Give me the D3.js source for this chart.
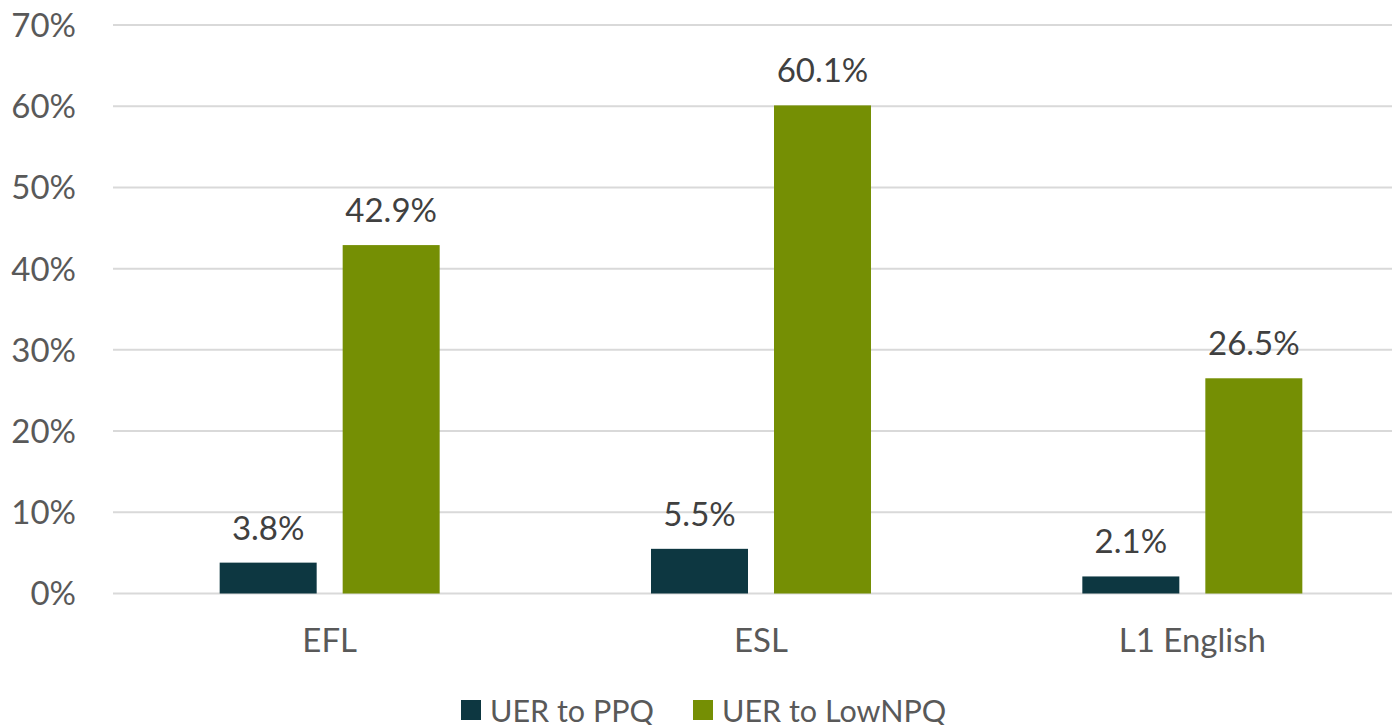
<!DOCTYPE html>
<html>
<head>
<meta charset="utf-8">
<script src="https://cdn.jsdelivr.net/npm/d3@7"></script>
<style>
  body { margin:0; background:#fff; }
  text { font-family: Lato, "Open Sans", sans-serif; }
</style>
</head>
<body>
<script>
const categories = ['EFL', 'ESL', 'L1 English']
const series = ['UER to PPQ', 'UER to LowNPQ']
const ppq = [3.8, 5.5, 2.1]
const lowNpq = [42.9, 60.1, 26.5]
const yTicks = [0, 10, 20, 30, 40, 50, 60, 70]
const colors = ['#0d3741', '#758f04']

const W = 1392, H = 725
const svg = d3.select('body').append('svg').attr('width', W).attr('height', H)

const x0 = d3.scaleBand().domain(categories).range([114, 1408]).padding(0)
const pair = 220
const x1 = d3.scaleBand().domain(series)
  .range([x0.bandwidth() / 2 - pair / 2, x0.bandwidth() / 2 + pair / 2])
  .paddingInner(26 / 123)
const y = d3.scaleLinear().domain([0, 70]).range([593.5, 25])

// gridlines
svg.append('g').selectAll('line')
  .data(yTicks)
  .enter().append('line')
    .attr('x1', 113).attr('x2', W)
    .attr('y1', d => y(d)).attr('y2', d => y(d))
    .attr('stroke', '#d9d9d9').attr('stroke-width', 2)

// y axis labels
svg.append('g').selectAll('text')
  .data(yTicks)
  .enter().append('text')
    .attr('x', 76).attr('y', d => y(d))
    .attr('dy', '0.36em')
    .attr('text-anchor', 'end')
    .attr('font-size', 33)
    .attr('fill', '#595959')
    .text(d => d + '%')

const rows = categories.map((c, i) => ({ cat: c, vals: [ppq[i], lowNpq[i]] }))

const groups = svg.append('g').selectAll('g')
  .data(rows)
  .enter().append('g')
    .attr('transform', d => `translate(${x0(d.cat)},0)`)

groups.selectAll('rect')
  .data(d => d.vals.map((v, i) => ({ s: series[i], v, i })))
  .enter().append('rect')
    .attr('x', d => x1(d.s))
    .attr('width', x1.bandwidth())
    .attr('y', d => y(d.v))
    .attr('height', d => y(0) - y(d.v))
    .attr('fill', d => colors[d.i])

groups.selectAll('text.val')
  .data(d => d.vals.map((v, i) => ({ s: series[i], v, i })))
  .enter().append('text')
    .classed('val', true)
    .attr('x', d => x1(d.s) + x1.bandwidth() / 2)
    .attr('y', d => y(d.v) - 23)
    .attr('text-anchor', 'middle')
    .attr('font-size', 33)
    .attr('fill', '#404040')
    .text(d => d.v.toFixed(1) + '%')

// category labels
svg.append('g').selectAll('text')
  .data(categories)
  .enter().append('text')
    .attr('x', d => x0(d) + x0.bandwidth() / 2)
    .attr('y', 652)
    .attr('text-anchor', 'middle')
    .attr('font-size', 33)
    .attr('fill', '#595959')
    .text(d => d)

// legend
const legendX = [461, 693]
const legend = svg.append('g').selectAll('g')
  .data(series)
  .enter().append('g')
    .attr('transform', (d, i) => `translate(${legendX[i]},700)`)
legend.append('rect')
  .attr('width', 20).attr('height', 20)
  .attr('fill', (d, i) => colors[i])
legend.append('text')
  .attr('x', 29).attr('y', 22)
  .attr('font-size', 30.5)
  .attr('fill', '#595959')
  .text(d => d)
</script>
</body>
</html>
